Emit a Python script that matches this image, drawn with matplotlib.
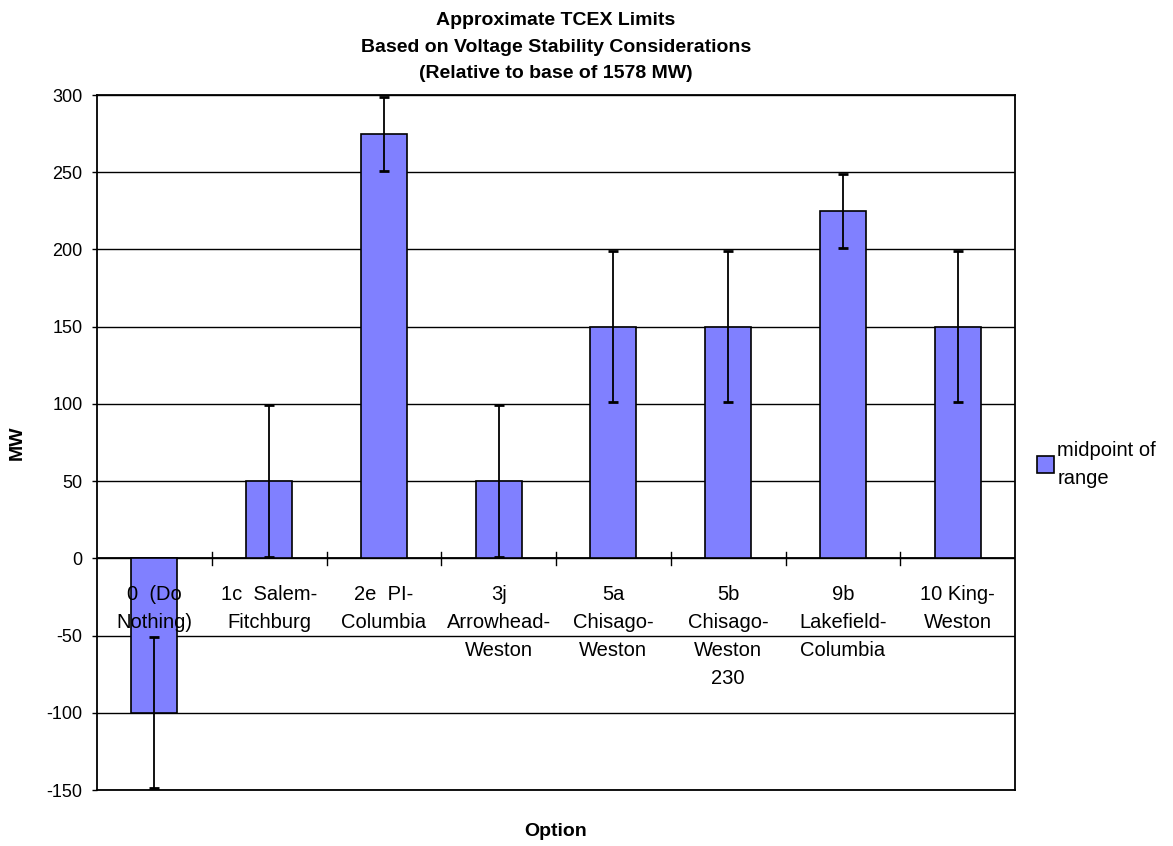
import numpy as np
import matplotlib.pyplot as plt
from matplotlib import transforms

plt.rcParams["font.family"] = ["Liberation Sans", "DejaVu Sans"]
plt.rcParams["axes.unicode_minus"] = False

options = ["0  (Do\nNothing)", "1c  Salem-\nFitchburg", "2e  PI-\nColumbia",
           "3j\nArrowhead-\nWeston", "5a\nChisago-\nWeston", "5b\nChisago-\nWeston\n230",
           "9b\nLakefield-\nColumbia", "10 King-\nWeston"]
midpoint = [-100, 50, 275, 50, 150, 150, 225, 150]
err = [49, 49, 24, 49, 49, 49, 24, 49]

fig = plt.figure(figsize=(11.73, 8.46), dpi=100)
ax = fig.add_axes([97 / 1173, 1 - 790 / 846, 918 / 1173, 695 / 846])

x = np.arange(len(midpoint))
ax.bar(x, midpoint, width=0.4, color="#8080ff", edgecolor="black", linewidth=1.2,
       label="midpoint of\nrange", zorder=3)
ax.errorbar(x, midpoint, yerr=err, fmt="none", ecolor="black", elinewidth=1.3,
            capsize=3.5, capthick=2, zorder=4)

ax.set_xlim(-0.5, len(midpoint) - 0.5)
ax.set_ylim(-150, 300)
ax.set_yticks(np.arange(-150, 301, 50))
ax.yaxis.grid(True, color="black", linewidth=1)
ax.set_axisbelow(True)
ax.set_xticks([])
ax.tick_params(axis="y", labelsize=13, length=3.5, width=1, pad=7)
for s in ax.spines.values():
    s.set_color("black")
    s.set_linewidth(1.3)

# category axis at zero with crossing tick marks
ax.axhline(0, color="black", linewidth=1.3, zorder=2)
for b in np.arange(0.5, len(midpoint) - 1, 1):
    ax.plot([b, b], [-4, 4], color="black", linewidth=1, zorder=2)

off = transforms.offset_copy(ax.transData, fig=fig, x=0, y=-27, units="dots")
for i, lab in enumerate(options):
    ax.text(i, 0, lab, transform=off, ha="center", va="top", fontsize=14.5,
            linespacing=1.6, zorder=5)

fig.text(556 / 1173, 1 - 47 / 846,
         "Approximate TCEX Limits\nBased on Voltage Stability Considerations\n(Relative to base of 1578 MW)",
         ha="center", va="center", fontsize=14, fontweight="bold", linespacing=1.7)
fig.text(17 / 1173, 1 - 443 / 846, "MW", rotation=90, ha="center", va="center",
         fontsize=14, fontweight="bold")
fig.text(556 / 1173, 1 - 831 / 846, "Option", ha="center", va="center",
         fontsize=14, fontweight="bold")

fig.legend(loc="center left", bbox_to_anchor=(1037 / 1173, 1 - 464 / 846),
           frameon=False, fontsize=14.5, handlelength=0.85, handleheight=0.85,
           handletextpad=0.15, borderpad=0, borderaxespad=0, labelspacing=0)
plt.setp(fig.legends[0].get_texts(), linespacing=1.6)

fig.savefig("out.png", dpi=100)
